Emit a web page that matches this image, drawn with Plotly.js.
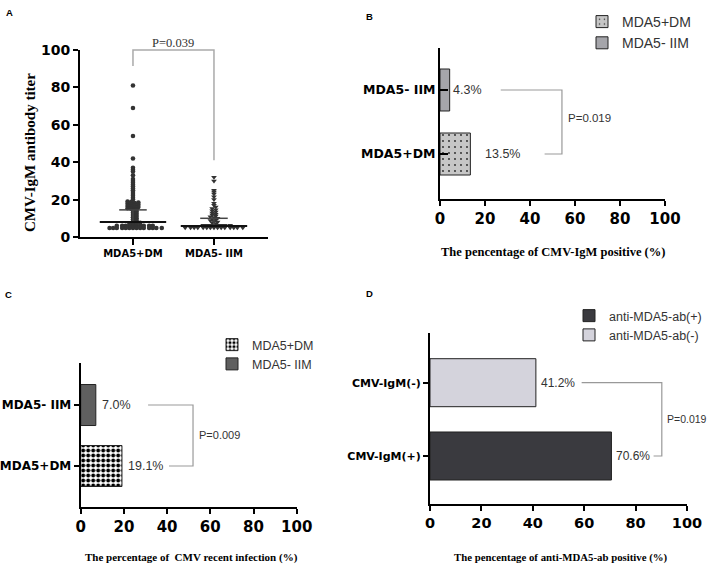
<!DOCTYPE html>
<html><head><meta charset="utf-8">
<script src="https://cdn.plot.ly/plotly-3.0.1.min.js"></script>
<style>html,body{margin:0;padding:0;background:#fff}#chart{width:708px;height:576px}</style>
</head><body><div id="chart"></div>
<script>
// ---------- Data ----------
// Panel A: CMV-IgM antibody titer (scatter dot plot, mean with SD)
const groupsA = ['MDA5+DM', 'MDA5- IIM'];
const titersDM = [81, 69, 54, 42,
  37, 36, 35, 33, 31, 30, 29, 28, 27, 26, 25, 24, 23, 22, 21, 20,
  19, 18.7, 18.4, 18.1, 17.8, 17.5, 17.2, 16.9, 16.6, 16.3, 16, 15.7, 15.4, 15.1, 14.8,
  14.2, 13.6, 13, 12.4, 11.8, 11.2, 10.6, 10, 9.4, 8.8, 8.2, 7.6,
  7, 7, 7, 6, 6, 6, 6, 6, 6, 6, 6, 6, 6,
  4.8, 4.8, 4.8, 4.8, 4.8, 4.8, 4.8, 4.8, 4.8, 4.8, 4.8, 4.8, 4.8, 4.8];
const titersIIM = [32, 30, 25, 24, 23, 21.5, 20,
  18, 17, 16, 15.3, 14.6, 14, 13.4, 12.8, 12.2, 11.7, 11.2, 10.8, 10.4, 10, 9.6, 9.2, 8.8, 8.4, 8, 7.6, 7.2,
  6.3, 6.3, 6.3, 6.3, 6.3, 6.3, 6.3, 6.3,
  5, 5, 5, 5, 5, 5, 5, 5, 5, 5, 5, 5, 5, 5, 5];
const meanA = [8.0, 5.9];
const sdA = [6.5, 4.1];
const pA = 'P=0.039';
const yTicksA = [0, 20, 40, 60, 80, 100];

// Panel B: percentage of CMV-IgM positive
const groupsB = ['MDA5+DM', 'MDA5- IIM'];
const pctB = [13.5, 4.3];
const pB = 'P=0.019';

// Panel C: percentage of CMV recent infection
const groupsC = ['MDA5+DM', 'MDA5- IIM'];
const pctC = [19.1, 7.0];
const pC = 'P=0.009';

// Panel D: percentage of anti-MDA5-ab positive
const groupsD = ['CMV-IgM(+)', 'CMV-IgM(-)'];
const seriesD = ['anti-MDA5-ab(+)', 'anti-MDA5-ab(-)'];
const pctD = [70.6, 41.2];
const pD = 'P=0.019';

const xTicksPct = [0, 20, 40, 60, 80, 100];

// ---------- Geometry helpers ----------
const W = 708, H = 576;
const dX = (a, b) => [a / W, b / W];
const dY = (top, bottom) => [1 - bottom / H, 1 - top / H];

const geo = {
  A: {x: [80, 268], y: [50, 237], xr: [-0.654, 1.667], yr: [0, 100]},
  B: {x: [440, 665], y: [48, 199], xr: [0, 100], yr: [-0.703, 1.656]},
  C: {x: [80.7, 296.7], y: [363, 507], xr: [0, 100], yr: [-0.672, 1.689]},
  D: {x: [430, 687], y: [333, 504], xr: [0, 100], yr: [-0.655, 1.678]}
};
function pxX(g, v) { return g.x[0] + (v - g.xr[0]) / (g.xr[1] - g.xr[0]) * (g.x[1] - g.x[0]); }
function pxY(g, v) { return g.y[1] - (v - g.yr[0]) / (g.yr[1] - g.yr[0]) * (g.y[1] - g.y[0]); }

// Beeswarm offsets (deterministic packing in pixel space, elliptical spacing)
function swarm(values, center, g, mx, my) {
  const pxPerX = (g.x[1] - g.x[0]) / (g.xr[1] - g.xr[0]);
  const pxPerY = (g.y[1] - g.y[0]) / (g.yr[1] - g.yr[0]);
  const order = values.map((v, i) => i).sort((a, b) => values[a] - values[b]);
  const placed = [];
  const xs = new Array(values.length);
  const step = mx / 2;
  order.forEach(i => {
    const yp = values[i] * pxPerY;
    let off = 0;
    for (let k = 0; k < 400; k++) {
      const cand = k === 0 ? 0 : (k % 2 ? 1 : -1) * Math.ceil(k / 2) * step;
      if (placed.every(p => Math.pow((p[0] - cand) / mx, 2) + Math.pow((p[1] - yp) / my, 2) >= 1)) { off = cand; break; }
    }
    placed.push([off, yp]);
    xs[i] = center + off / pxPerX;
  });
  return xs;
}

// ---------- Styles ----------
const tickFont = (s) => ({family: 'DejaVu Sans', size: s, color: '#000', weight: 'bold'});
const baseAxis = {
  showline: true, linecolor: '#000', linewidth: 2, ticks: 'outside', tickcolor: '#000',
  tickwidth: 2, ticklen: 5, showgrid: false, zeroline: false, fixedrange: true
};
const labFont = (s) => ({family: 'Liberation Sans', size: s, color: '#333'});
const serifBold = (s) => ({family: 'Liberation Serif', size: s, color: '#000', weight: 'bold'});

// ---------- Traces ----------
const traces = [];

// Panel A scatter
const xDM = swarm(titersDM, 0, geo.A, 3.6, 1.7);
const xIIM = swarm(titersIIM, 1, geo.A, 3.6, 1.7);
traces.push({type: 'scatter', mode: 'markers', x: xDM, y: titersDM, xaxis: 'x', yaxis: 'y',
  marker: {symbol: 'circle', size: 4.6, color: '#333'}, showlegend: false, cliponaxis: false});
traces.push({type: 'scatter', mode: 'markers', x: xIIM, y: titersIIM, xaxis: 'x', yaxis: 'y',
  marker: {symbol: 'triangle-down', size: 5, color: '#333'}, showlegend: false, cliponaxis: false});
// mean lines and SD
const meanX = [], meanY = [], sdX = [], sdY = [];
groupsA.forEach((g, i) => {
  meanX.push(i - 0.41, i + 0.41, null); meanY.push(meanA[i], meanA[i], null);
  sdX.push(i - 0.17, i + 0.17, null, i, i, null);
  sdY.push(meanA[i] + sdA[i], meanA[i] + sdA[i], null, meanA[i], meanA[i] + sdA[i], null);
});
traces.push({type: 'scatter', mode: 'lines', x: sdX, y: sdY, xaxis: 'x', yaxis: 'y',
  line: {color: '#444', width: 1.5}, showlegend: false});
traces.push({type: 'scatter', mode: 'lines', x: meanX, y: meanY, xaxis: 'x', yaxis: 'y',
  line: {color: '#111', width: 2}, showlegend: false});

// Panel B bars
const barLine = {color: '#222', width: 1};
const stylesB = [
  {color: '#c6c6c6', line: barLine, pattern: {shape: '.', fgcolor: '#222', bgcolor: '#c6c6c6', size: 6, solidity: 0.07}},
  {color: '#a5a5aa', line: barLine}
];
groupsB.forEach((g, i) => traces.push({type: 'bar', orientation: 'h', name: g, x: [pctB[i]], y: [i],
  width: 0.656, xaxis: 'x2', yaxis: 'y2', marker: stylesB[i], legend: 'legend', legendgroup: 'b' + i, hoverinfo: 'x+name'}));

// Panel C bars
const stylesC = [
  {color: '#ffffff', line: barLine, pattern: {shape: '.', fgcolor: '#000', bgcolor: '#ffffff', size: 5, solidity: 0.5}},
  {color: '#5f5f5f', line: barLine}
];
groupsC.forEach((g, i) => traces.push({type: 'bar', orientation: 'h', name: g, x: [pctC[i]], y: [i],
  width: 0.672, xaxis: 'x3', yaxis: 'y3', marker: stylesC[i], legend: 'legend2', legendgroup: 'c' + i, hoverinfo: 'x+name'}));

// Panel D bars
const colorsD = ['#3a3a3f', '#d4d3dc'];
seriesD.forEach((s, i) => traces.push({type: 'bar', orientation: 'h', name: s, x: [pctD[i]], y: [i],
  width: 0.655, xaxis: 'x4', yaxis: 'y4', marker: {color: colorsD[i], line: barLine}, legend: 'legend3', legendgroup: 'd' + i, hoverinfo: 'x+name'}));

// ---------- Annotations ----------
const ann = [];
const panelLetters = [['A', 9, 13], ['B', 369, 16], ['C', 8, 294], ['D', 369, 293]];
panelLetters.forEach(([t, x, y]) => ann.push({xref: 'paper', yref: 'paper', x: x / W, y: 1 - y / H,
  text: t, showarrow: false, xanchor: 'center', yanchor: 'middle',
  font: {family: 'Liberation Sans', size: 9.5, color: '#000', weight: 'bold'}}));

// axis titles
ann.push({xref: 'paper', yref: 'paper', x: 30 / W, y: 1 - 153 / H, text: 'CMV-IgM antibody titer',
  textangle: -90, showarrow: false, xanchor: 'center', yanchor: 'middle', font: serifBold(15)});
ann.push({xref: 'paper', yref: 'paper', x: 552.5 / W, y: 1 - 252 / H, text: 'The pencentage of CMV-IgM positive (%)',
  showarrow: false, xanchor: 'center', yanchor: 'middle', font: serifBold(12.5)});
ann.push({xref: 'paper', yref: 'paper', x: 191.5 / W, y: 1 - 557 / H, text: 'The percentage of  CMV recent infection (%)',
  showarrow: false, xanchor: 'center', yanchor: 'middle', font: serifBold(11)});
ann.push({xref: 'paper', yref: 'paper', x: 561 / W, y: 1 - 557 / H, text: 'The pencentage of anti-MDA5-ab positive (%)',
  showarrow: false, xanchor: 'center', yanchor: 'middle', font: serifBold(10.8)});

// value labels
const gapsB = [13, 1], gapsC = [4, 4], gapsD = [3, 3];
pctB.forEach((v, i) => ann.push({xref: 'x2', yref: 'y2', x: v, y: i, text: v.toFixed(1) + '%', xanchor: 'left',
  xshift: gapsB[i], showarrow: false, font: labFont(12.5)}));
pctC.forEach((v, i) => ann.push({xref: 'x3', yref: 'y3', x: v, y: i, text: v.toFixed(1) + '%', xanchor: 'left',
  xshift: gapsC[i], showarrow: false, font: labFont(12.5)}));
pctD.forEach((v, i) => ann.push({xref: 'x4', yref: 'y4', x: v, y: i, text: v.toFixed(1) + '%', xanchor: 'left',
  xshift: gapsD[i], showarrow: false, font: labFont(12)}));

// p-values
ann.push({xref: 'paper', yref: 'paper', x: pxX(geo.A, 0.5) / W, y: 1 - 43 / H, text: pA, showarrow: false,
  xanchor: 'center', yanchor: 'middle', font: {family: 'Liberation Serif', size: 12.5, color: '#333'}});
ann.push({xref: 'x2', yref: 'y2', x: 56, y: 0.56, text: pB, showarrow: false, xanchor: 'left', font: labFont(11.5)});
ann.push({xref: 'x3', yref: 'y3', x: 53.8, y: 0.51, text: pC, showarrow: false, xanchor: 'left', font: labFont(11)});
ann.push({xref: 'x4', yref: 'y4', x: 91.6, y: 0.5, text: pD, showarrow: false, xanchor: 'left', font: labFont(10.5)});

// ---------- Shapes (significance brackets) ----------
const brk = {color: '#999', width: 1.2};
const shapes = [];
{
  const g = geo.A;
  const xl = pxX(g, 0) / W, xr = pxX(g, 1) / W;
  const yt = 1 - pxY(g, 100) / H, yl = 1 - pxY(g, 91.4) / H, yrr = 1 - pxY(g, 41) / H;
  shapes.push({type: 'path', xref: 'paper', yref: 'paper',
    path: `M ${xl} ${yl} L ${xl} ${yt} L ${xr} ${yt} L ${xr} ${yrr}`, line: {color: '#aaa', width: 1.5}});
}
shapes.push({type: 'path', xref: 'x2', yref: 'y2', path: 'M 27 1 L 54.2 1 L 54.2 0 L 46.5 0', line: brk});
shapes.push({type: 'path', xref: 'x3', yref: 'y3', path: 'M 31.2 1 L 52 1 L 52 0 L 40.9 0', line: brk});
shapes.push({type: 'path', xref: 'x4', yref: 'y4', path: 'M 59 1 L 90.2 1 L 90.2 0 L 87 0', line: brk});

// ---------- Layout ----------
const catAxis = (names, size, ticks) => Object.assign({}, baseAxis, {
  tickmode: 'array', tickvals: names.map((n, i) => i), ticktext: names, tickfont: tickFont(size), ticks: ticks});
const pctAxis = (size) => Object.assign({}, baseAxis, {
  tickmode: 'array', tickvals: xTicksPct, ticktext: xTicksPct.map(String), tickfont: tickFont(size)});

const layout = {
  width: W, height: H, margin: {l: 0, r: 0, t: 0, b: 0},
  paper_bgcolor: '#fff', plot_bgcolor: 'rgba(0,0,0,0)',
  barmode: 'overlay', hovermode: false,
  xaxis: Object.assign(catAxis(groupsA, 10, 'outside'), {domain: dX(...geo.A.x), range: geo.A.xr, anchor: 'y', ticklen: 6}),
  yaxis: Object.assign({}, baseAxis, {domain: dY(...geo.A.y), range: geo.A.yr, anchor: 'x',
    tickmode: 'array', tickvals: yTicksA, ticktext: yTicksA.map(String), tickfont: tickFont(14)}),
  xaxis2: Object.assign(pctAxis(15), {domain: dX(...geo.B.x), range: geo.B.xr, anchor: 'y2'}),
  yaxis2: Object.assign(catAxis(groupsB, 12.5, 'inside'), {domain: dY(...geo.B.y), range: geo.B.yr, anchor: 'x2', ticklen: 8}),
  xaxis3: Object.assign(pctAxis(15), {domain: dX(...geo.C.x), range: geo.C.xr, anchor: 'y3'}),
  yaxis3: Object.assign(catAxis(groupsC, 12, 'outside'), {domain: dY(...geo.C.y), range: geo.C.yr, anchor: 'x3'}),
  xaxis4: Object.assign(pctAxis(14.5), {domain: dX(...geo.D.x), range: geo.D.xr, anchor: 'y4'}),
  yaxis4: Object.assign(catAxis(groupsD, 11, 'outside'), {domain: dY(...geo.D.y), range: geo.D.yr, anchor: 'x4'}),
  legend: {x: 582 / W, y: 1 - 6 / H, xanchor: 'left', yanchor: 'top', traceorder: 'normal', tracegroupgap: 3,
    font: {family: 'Liberation Sans', size: 14, color: '#333'}, bgcolor: 'rgba(0,0,0,0)'},
  legend2: {x: 212 / W, y: 1 - 330 / H, xanchor: 'left', yanchor: 'top', traceorder: 'normal', tracegroupgap: 5,
    font: {family: 'Liberation Sans', size: 12.5, color: '#333'}, bgcolor: 'rgba(0,0,0,0)'},
  legend3: {x: 569 / W, y: 1 - 301 / H, xanchor: 'left', yanchor: 'top', traceorder: 'normal', tracegroupgap: 4,
    font: {family: 'Liberation Sans', size: 12.5, color: '#333'}, bgcolor: 'rgba(0,0,0,0)'},
  annotations: ann,
  shapes: shapes,
  font: {family: 'Liberation Sans', color: '#000'}
};

Plotly.newPlot('chart', traces, layout, {displayModeBar: false, staticPlot: true});
</script>
</body></html>
